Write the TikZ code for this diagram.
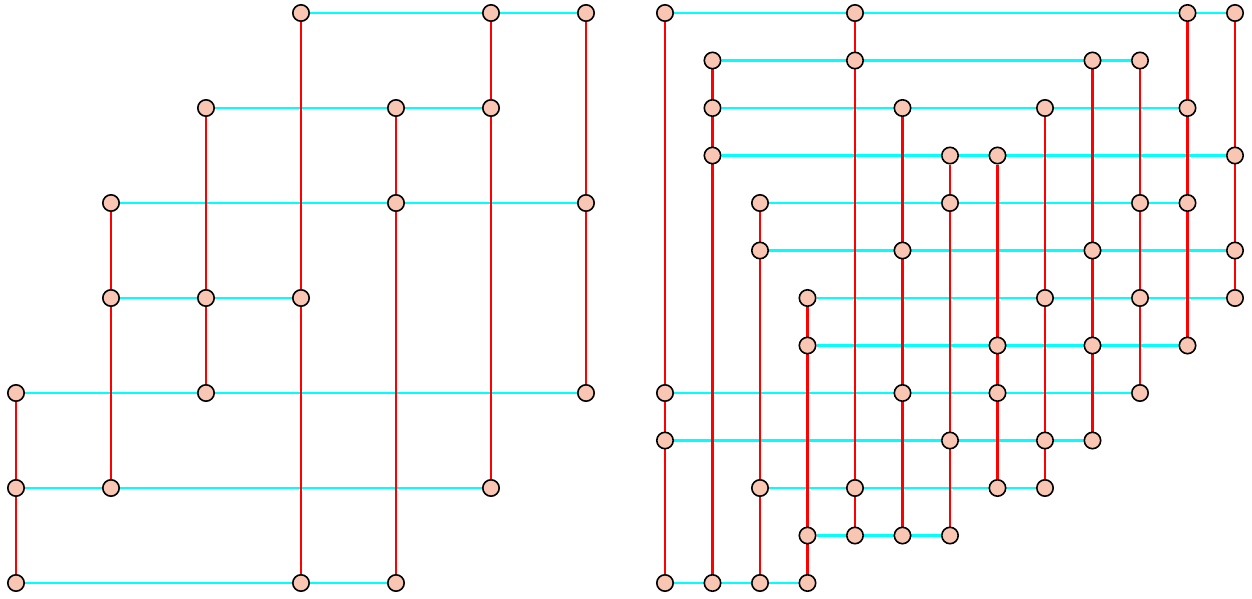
\documentclass[tikz,border=0pt]{standalone}
\usepackage{tikz}
\usepackage{amsmath}

\pgfdeclarelayer{background}
\pgfsetlayers{background,main}

\definecolor{dotfill}{RGB}{250,198,180}
\definecolor{rowcyan}{RGB}{0,255,255}
\definecolor{colred}{RGB}{255,0,0}

\begin{document}
\begin{tikzpicture}[x=0.5pt,y=-0.5pt,
	    dot/.style={circle,draw=black,fill=dotfill,line width=0.8pt,minimum size=8.2pt,inner sep=0pt},
	    hline/.style={rowcyan,line width=1.2pt},
	    vline/.style={colred,line width=1.2pt}]
	    \useasboundingbox (0,0) rectangle (1252,599);
	    % left picture
	    \node [dot] (L0c3) at (301,13) {};
	    \node [dot] (L0c5) at (491,13) {};
	    \node [dot] (L0c6) at (586,13) {};
	    \node [dot] (L1c2) at (206,108) {};
	    \node [dot] (L1c4) at (396,108) {};
	    \node [dot] (L1c5) at (491,108) {};
	    \node [dot] (L2c1) at (111,203) {};
	    \node [dot] (L2c4) at (396,203) {};
	    \node [dot] (L2c6) at (586,203) {};
	    \node [dot] (L3c1) at (111,298) {};
	    \node [dot] (L3c2) at (206,298) {};
	    \node [dot] (L3c3) at (301,298) {};
	    \node [dot] (L4c0) at (16,393) {};
	    \node [dot] (L4c2) at (206,393) {};
	    \node [dot] (L4c6) at (586,393) {};
	    \node [dot] (L5c0) at (16,488) {};
	    \node [dot] (L5c1) at (111,488) {};
	    \node [dot] (L5c5) at (491,488) {};
	    \node [dot] (L6c0) at (16,583) {};
	    \node [dot] (L6c3) at (301,583) {};
	    \node [dot] (L6c4) at (396,583) {};
	    % right picture
	    \node [dot] (R0c0) at (665,13) {};
	    \node [dot] (R0c4) at (855,13) {};
	    \node [dot] (R0c11) at (1187.5,13) {};
	    \node [dot] (R0c12) at (1235,13) {};
	    \node [dot] (R1c1) at (712.5,60.5) {};
	    \node [dot] (R1c4) at (855,60.5) {};
	    \node [dot] (R1c9) at (1092.5,60.5) {};
	    \node [dot] (R1c10) at (1140,60.5) {};
	    \node [dot] (R2c1) at (712.5,108) {};
	    \node [dot] (R2c5) at (902.5,108) {};
	    \node [dot] (R2c8) at (1045,108) {};
	    \node [dot] (R2c11) at (1187.5,108) {};
	    \node [dot] (R3c1) at (712.5,155.5) {};
	    \node [dot] (R3c6) at (950,155.5) {};
	    \node [dot] (R3c7) at (997.5,155.5) {};
	    \node [dot] (R3c12) at (1235,155.5) {};
	    \node [dot] (R4c2) at (760,203) {};
	    \node [dot] (R4c6) at (950,203) {};
	    \node [dot] (R4c10) at (1140,203) {};
	    \node [dot] (R4c11) at (1187.5,203) {};
	    \node [dot] (R5c2) at (760,250.5) {};
	    \node [dot] (R5c5) at (902.5,250.5) {};
	    \node [dot] (R5c9) at (1092.5,250.5) {};
	    \node [dot] (R5c12) at (1235,250.5) {};
	    \node [dot] (R6c3) at (807.5,298) {};
	    \node [dot] (R6c8) at (1045,298) {};
	    \node [dot] (R6c10) at (1140,298) {};
	    \node [dot] (R6c12) at (1235,298) {};
	    \node [dot] (R7c3) at (807.5,345.5) {};
	    \node [dot] (R7c7) at (997.5,345.5) {};
	    \node [dot] (R7c9) at (1092.5,345.5) {};
	    \node [dot] (R7c11) at (1187.5,345.5) {};
	    \node [dot] (R8c0) at (665,393) {};
	    \node [dot] (R8c5) at (902.5,393) {};
	    \node [dot] (R8c7) at (997.5,393) {};
	    \node [dot] (R8c10) at (1140,393) {};
	    \node [dot] (R9c0) at (665,440.5) {};
	    \node [dot] (R9c6) at (950,440.5) {};
	    \node [dot] (R9c8) at (1045,440.5) {};
	    \node [dot] (R9c9) at (1092.5,440.5) {};
	    \node [dot] (R10c2) at (760,488) {};
	    \node [dot] (R10c4) at (855,488) {};
	    \node [dot] (R10c7) at (997.5,488) {};
	    \node [dot] (R10c8) at (1045,488) {};
	    \node [dot] (R11c3) at (807.5,535.5) {};
	    \node [dot] (R11c4) at (855,535.5) {};
	    \node [dot] (R11c5) at (902.5,535.5) {};
	    \node [dot] (R11c6) at (950,535.5) {};
	    \node [dot] (R12c0) at (665,583) {};
	    \node [dot] (R12c1) at (712.5,583) {};
	    \node [dot] (R12c2) at (760,583) {};
	    \node [dot] (R12c3) at (807.5,583) {};
	    \begin{pgfonlayer}{background}
	    % rows
	    \draw [hline] (L0c3) -- (L0c6);
	    \draw [hline] (L1c2) -- (L1c5);
	    \draw [hline] (L2c1) -- (L2c6);
	    \draw [hline] (L3c1) -- (L3c3);
	    \draw [hline] (L4c0) -- (L4c6);
	    \draw [hline] (L5c0) -- (L5c5);
	    \draw [hline] (L6c0) -- (L6c4);
	    \draw [hline] (R0c0) -- (R0c12);
	    \draw [hline] (R1c1) -- (R1c10);
	    \draw [hline] (R2c1) -- (R2c11);
	    \draw [hline] (R3c1) -- (R3c12);
	    \draw [hline] (R4c2) -- (R4c11);
	    \draw [hline] (R5c2) -- (R5c12);
	    \draw [hline] (R6c3) -- (R6c12);
	    \draw [hline] (R7c3) -- (R7c11);
	    \draw [hline] (R8c0) -- (R8c10);
	    \draw [hline] (R9c0) -- (R9c9);
	    \draw [hline] (R10c2) -- (R10c8);
	    \draw [hline] (R11c3) -- (R11c6);
	    \draw [hline] (R12c0) -- (R12c3);
	    % columns
	    \draw [vline] (L4c0) -- (L6c0);
	    \draw [vline] (L2c1) -- (L5c1);
	    \draw [vline] (L1c2) -- (L4c2);
	    \draw [vline] (L0c3) -- (L6c3);
	    \draw [vline] (L1c4) -- (L6c4);
	    \draw [vline] (L0c5) -- (L5c5);
	    \draw [vline] (L0c6) -- (L4c6);
	    \draw [vline] (R0c0) -- (R12c0);
	    \draw [vline] (R1c1) -- (R12c1);
	    \draw [vline] (R4c2) -- (R12c2);
	    \draw [vline] (R6c3) -- (R12c3);
	    \draw [vline] (R0c4) -- (R11c4);
	    \draw [vline] (R2c5) -- (R11c5);
	    \draw [vline] (R3c6) -- (R11c6);
	    \draw [vline] (R3c7) -- (R10c7);
	    \draw [vline] (R2c8) -- (R10c8);
	    \draw [vline] (R1c9) -- (R9c9);
	    \draw [vline] (R1c10) -- (R8c10);
	    \draw [vline] (R0c11) -- (R7c11);
	    \draw [vline] (R0c12) -- (R6c12);
	    \end{pgfonlayer}
    \end{tikzpicture}
\end{document}
